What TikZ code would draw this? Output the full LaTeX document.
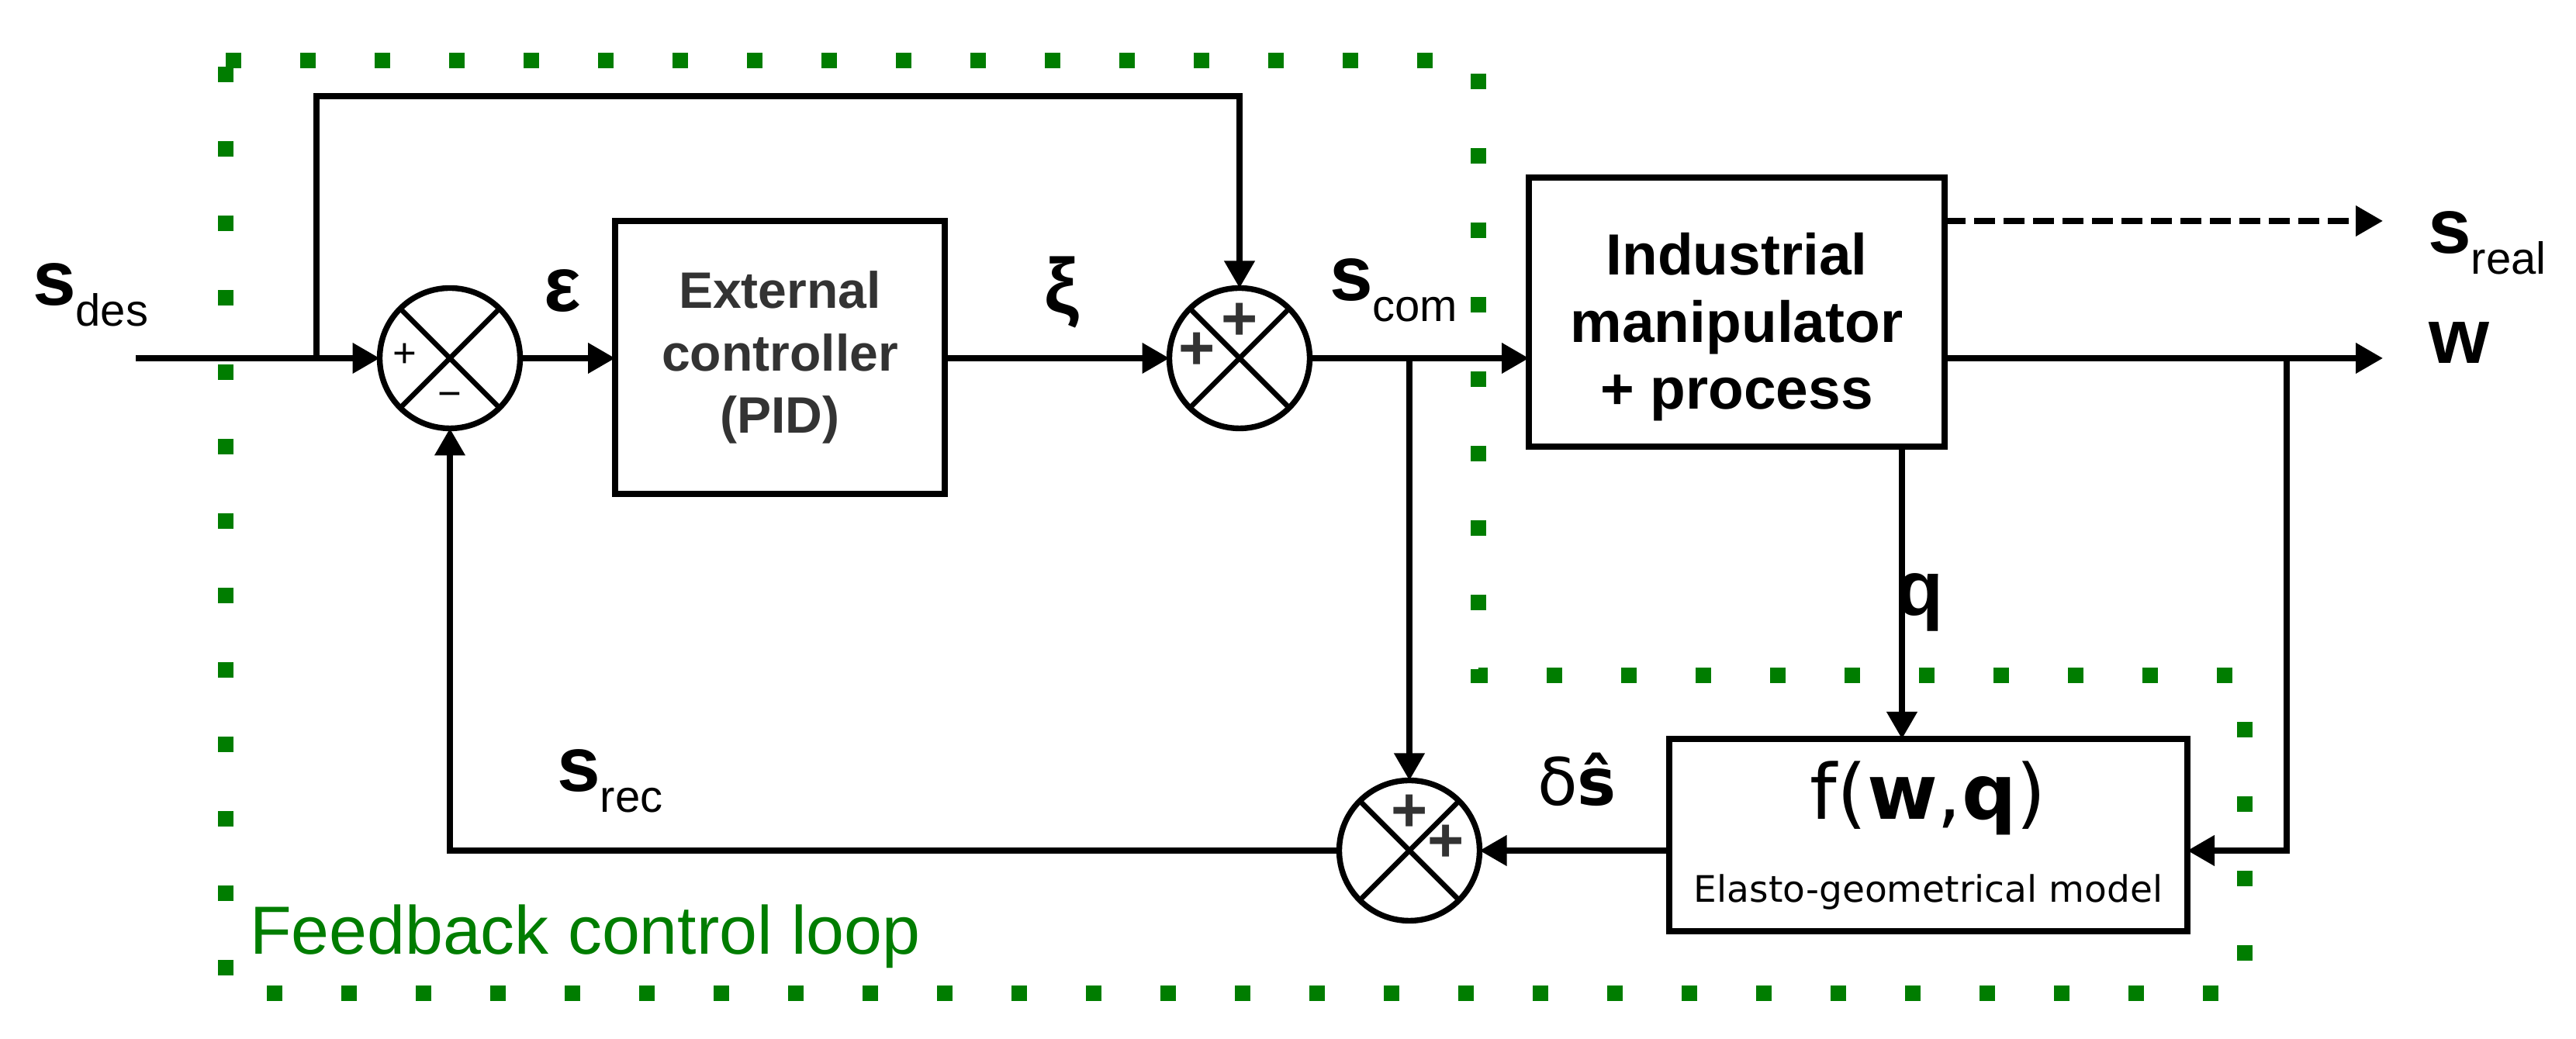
\documentclass[tikz,border=0pt]{standalone}
\usepackage{fontspec}
\setmainfont{Liberation Sans}
\newfontfamily\dvsans{DejaVu Sans}
\definecolor{loopgreen}{RGB}{0,125,0}
\definecolor{txtgray}{RGB}{51,51,51}
\usetikzlibrary{arrows.meta,positioning,calc}
\newcommand{\sigl}[1]{{\fontsize{28.5}{30}\selectfont\bfseries s}\raisebox{-0.27cm}{\fontsize{16.5}{18}\selectfont #1}}

\begin{document}
\begin{tikzpicture}[
  every node/.style={inner sep=0pt,outer sep=0pt},
  blk/.style={draw,line width=2.4pt},
  sumnode/.style={draw,circle,line width=2.1pt,minimum size=1.81cm},
  sigline/.style={line width=2.1pt,-{Triangle[length=0.35cm,width=0.38cm]}},
  big/.style={font=\fontsize{28.5}{30}\selectfont\bfseries},
  sgn/.style={font=\fontsize{23}{24}\selectfont\bfseries,text=txtgray},
]
  \useasboundingbox (0,0) rectangle (33.21,13.40);

  % Blocks
  \node[blk,minimum width=4.25cm,minimum height=3.52cm,align=center,text=txtgray,
        font=\fontsize{18.8}{22.8}\selectfont\bfseries] (pid) at (10.055,8.79)
    {External\\controller\\(PID)};
  \node[blk,minimum width=5.36cm,minimum height=3.47cm] (ind) at (22.39,9.375) {};
  \node[align=center,font=\fontsize{21.3}{24.6}\selectfont\bfseries] (indtxt)
    at (22.39,9.18) {Industrial\\manipulator\\+ process};
  \node[blk,minimum width=6.68cm,minimum height=2.48cm] (fbox) at (24.86,2.63) {};
  \node[anchor=base,font=\dvsans\fontsize{28}{30}\selectfont] (fwq) at (24.86,2.83)
    {f(\textbf{w},\textbf{q})};
  \node[anchor=base,font=\dvsans\fontsize{13.4}{15}\selectfont] (fsub) at (24.86,1.76)
    {Elasto-geometrical model};

  % Summing junctions
  \node[sumnode] (s1) at (5.80,8.78) {};
  \node[sumnode] (s2) at (15.98,8.78) {};
  \node[sumnode] (s3) at (18.17,2.43) {};
  \foreach \s in {s1,s2,s3}
    \draw[line width=1.9pt] (\s.north east) -- (\s.south west)
                            (\s.north west) -- (\s.south east);
  \node[font=\fontsize{15}{16}\selectfont] (s1p) at ($(s1)+(-0.58,0.04)$) {+};
  \node[font=\fontsize{15}{16}\selectfont] (s1m) at ($(s1)+(0,-0.54)$) {−};
  \node[sgn] (s2a) at ($(s2)+(-0.55,0.09)$) {+};
  \node[sgn] (s2b) at ($(s2)+(0,0.47)$) {+};
  \node[sgn] (s3a) at ($(s3)+(0,0.48)$) {+};
  \node[sgn] (s3b) at ($(s3)+(0.47,0.09)$) {+};

  % Connections
  \coordinate (in) at (1.75,8.78);
  \coordinate (ff) at (4.08,8.78);
  \coordinate (fftop) at (4.08,12.16);
  \coordinate (tap) at (s3 |- s2);
  \coordinate (realend) at (30.72,10.55);
  \coordinate (wend) at (30.72,8.78);
  \coordinate (wtap) at (29.48,8.78);
  \coordinate (wlow) at (29.48,2.43);
  \coordinate (qx) at (24.52,0);

  \draw[sigline] (in) -- (s1.west);
  \draw[sigline] (ff) -- (fftop) -| (s2.north);
  \draw[sigline] (s1.east) -- (pid.west |- s1.east);
  \draw[sigline] (pid.east |- s2.west) -- (s2.west);
  \draw[sigline] (s2.east) -- (ind.west |- s2.east);
  \draw[sigline] (tap) -- (s3.north);
  \draw[sigline,dash pattern=on 0.27cm off 0.11cm] (ind.east |- realend) -- (realend);
  \draw[sigline] (ind.east |- wend) -- (wend);
  \draw[sigline] (wtap) -- (wlow) -- (fbox.east |- wlow);
  \draw[sigline] (ind.south -| qx) -- (fbox.north -| qx);
  \draw[sigline] (fbox.west |- s3.east) -- (s3.east);
  \draw[sigline] (s3.west) -| (s1.south);

  % Signal labels
  \node[anchor=base west] (sdes) at (0.42,9.46) {\sigl{des}};
  \node[anchor=base west,big] (eps) at (7.01,9.38) {ε};
  \node[anchor=base west,big] (xi) at (13.46,9.36) {ξ};
  \node[anchor=base west] (scom) at (17.14,9.52) {\sigl{com}};
  \node[anchor=base west] (sreal) at (31.30,10.13) {\sigl{real}};
  \node[anchor=base west,big] (wout) at (31.31,8.71) {w};
  \node[anchor=base west,big] (qlab) at (24.44,5.46) {q};
  \node[anchor=base west,font=\dvsans\fontsize{24}{26}\selectfont] (dsh) at (19.82,3.01)
    {δ\textbf{ŝ}};
  \node[anchor=base west] (srec) at (7.18,3.19) {\sigl{rec}};

  % Feedback loop frame
  \draw[loopgreen,line width=0.2cm,dash pattern=on 0.2cm off 0.76cm]
    (2.91,12.62) -- (19.06,12.62) -- (19.06,4.69) -- (28.94,4.69)
    -- (28.94,0.59) -- (2.91,0.59) -- cycle;
  \node[anchor=base west,text=loopgreen,font=\fontsize{25}{27}\selectfont] (looplab)
    at (3.22,1.09) {Feedback control loop};
\end{tikzpicture}
\end{document}
